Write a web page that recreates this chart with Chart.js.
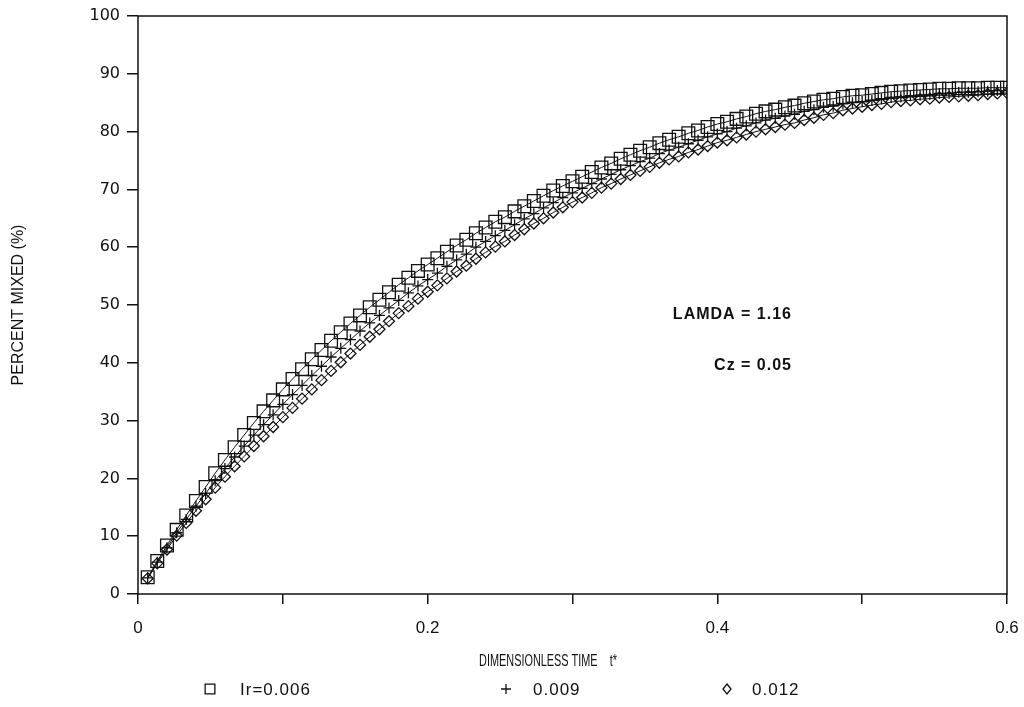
<!DOCTYPE html>
<html>
<head>
<meta charset="utf-8">
<title>Percent mixed vs dimensionless time</title>
<script src="https://cdn.jsdelivr.net/npm/chart.js@4.4.0/dist/chart.umd.min.js"></script>
<style>
  html, body { margin: 0; padding: 0; background: #fff; }
  #wrap { width: 1024px; height: 707px; position: relative; }
</style>
</head>
<body>
<div id="wrap"><canvas id="mixChart"></canvas></div>
<script>
// sample times: 90 steps of 1/150 up to t* = 0.6
const nSteps = 90;
const tStep = 1 / 150;
const times = [];
for (let k = 1; k <= nSteps; k++) times.push(+(k * tStep).toFixed(4));

const seriesNames = ['Ir=0.006', '0.009', '0.012'];

// percent mixed, Ir = 0.006 (squares)
const mixed006 = [
  2.9, 5.7, 8.4, 11.1, 13.6, 16.1, 18.5, 20.9, 23.2, 25.4,
  27.5, 29.6, 31.6, 33.5, 35.4, 37.2, 38.9, 40.6, 42.2, 43.8,
  45.3, 46.8, 48.2, 49.6, 50.9, 52.2, 53.5, 54.7, 55.9, 57.0,
  58.1, 59.2, 60.3, 61.3, 62.4, 63.4, 64.4, 65.2, 66.2, 67.1,
  68.0, 68.9, 69.8, 70.6, 71.4, 72.2, 73.0, 73.8, 74.5, 75.3,
  76.0, 76.7, 77.3, 78.0, 78.6, 79.1, 79.7, 80.2, 80.8, 81.3,
  81.7, 82.2, 82.6, 83.1, 83.5, 83.8, 84.2, 84.5, 84.9, 85.2,
  85.5, 85.7, 86.0, 86.2, 86.3, 86.5, 86.7, 86.9, 87.0, 87.1,
  87.2, 87.3, 87.4, 87.4, 87.5, 87.5, 87.5, 87.6, 87.6, 87.6
];

// percent mixed, Ir = 0.009 (plus)
const mixed009 = [
  2.8, 5.5, 8.0, 10.6, 12.9, 15.2, 17.4, 19.6, 21.7, 23.7,
  25.6, 27.5, 29.3, 31.0, 32.8, 34.5, 36.1, 37.8, 39.4, 41.0,
  42.5, 44.0, 45.5, 46.9, 48.2, 49.5, 50.8, 52.1, 53.3, 54.4,
  55.5, 56.7, 57.8, 58.8, 60.0, 61.0, 62.0, 62.9, 63.9, 64.9,
  65.8, 66.8, 67.7, 68.6, 69.4, 70.2, 71.0, 71.8, 72.6, 73.4,
  74.1, 74.8, 75.4, 76.2, 76.8, 77.3, 77.9, 78.5, 79.1, 79.6,
  80.0, 80.6, 81.0, 81.5, 82.0, 82.3, 82.7, 83.0, 83.5, 83.8,
  84.2, 84.4, 84.8, 85.0, 85.2, 85.4, 85.7, 85.9, 86.0, 86.2,
  86.3, 86.4, 86.6, 86.6, 86.8, 86.8, 86.9, 87.0, 87.1, 87.1
];

// percent mixed, Ir = 0.012 (diamonds)
const mixed012 = [
  2.7, 5.3, 7.7, 10.1, 12.3, 14.4, 16.4, 18.4, 20.3, 22.1,
  23.8, 25.6, 27.3, 28.9, 30.6, 32.2, 33.8, 35.4, 37.0, 38.6,
  40.1, 41.6, 43.1, 44.5, 45.8, 47.2, 48.6, 49.8, 51.1, 52.3,
  53.4, 54.6, 55.8, 56.8, 58.0, 59.1, 60.1, 61.0, 62.1, 63.1,
  64.1, 65.0, 66.0, 66.9, 67.8, 68.6, 69.4, 70.3, 71.0, 71.8,
  72.5, 73.2, 73.9, 74.6, 75.2, 75.7, 76.4, 76.9, 77.5, 78.1,
  78.5, 79.0, 79.5, 80.0, 80.4, 80.8, 81.2, 81.5, 82.0, 82.4,
  82.9, 83.2, 83.7, 84.0, 84.3, 84.6, 84.8, 85.1, 85.3, 85.4,
  85.6, 85.7, 85.9, 86.0, 86.1, 86.2, 86.3, 86.5, 86.6, 86.7
];

const xTickLabels = ['0', '0.2', '0.4', '0.6'];
const notes = ['LAMDA = 1.16', 'Cz = 0.05'];

const ink = '#111';
const sans = '"Liberation Sans", Arial, sans-serif';
const toPoints = ys => ys.map((y, i) => ({ x: times[i], y }));

function series(label, ys, style, radius) {
  return {
    label,
    data: toPoints(ys),
    borderColor: ink,
    borderWidth: 1,
    pointStyle: style,
    pointRadius: radius,
    pointBorderColor: ink,
    pointBackgroundColor: 'rgba(0,0,0,0)',
    pointBorderWidth: 1.3,
    tension: 0,
    fill: false
  };
}

// frame, notes, x title and the legend row under the axis
const extras = {
  id: 'extras',
  afterDraw(chart) {
    const { ctx, chartArea: a } = chart;
    ctx.save();
    ctx.strokeStyle = ink;
    ctx.lineWidth = 1.5;
    ctx.strokeRect(a.left, a.top, a.right - a.left, a.bottom - a.top);

    ctx.fillStyle = ink;
    ctx.letterSpacing = '1px';
    ctx.font = 'bold 16px ' + sans;
    ctx.textAlign = 'right';
    ctx.textBaseline = 'middle';
    ctx.fillText(notes[0], 792, 315);
    ctx.fillText(notes[1], 792, 366);

    // condensed axis title
    ctx.save();
    ctx.letterSpacing = '0px';
    ctx.font = '17px ' + sans;
    ctx.textAlign = 'center';
    ctx.translate(548, 661);
    ctx.scale(0.64, 1);
    ctx.fillText('DIMENSIONLESS TIME    t*', 0, 0);
    ctx.restore();

    const items = [
      { style: 'rect', r: 6.5, x: 210, tx: 240 },
      { style: 'cross', r: 5, x: 506, tx: 533 },
      { style: 'rectRot', r: 5, x: 727, tx: 752 }
    ];
    ctx.textAlign = 'left';
    ctx.font = '17px ' + sans;
    items.forEach((it, i) => {
      const y = 689;
      ctx.lineWidth = 1.3;
      ctx.beginPath();
      if (it.style === 'rect') {
        ctx.rect(it.x - it.r * 0.75, y - it.r * 0.75, it.r * 1.5, it.r * 1.5);
      } else if (it.style === 'cross') {
        ctx.moveTo(it.x - it.r, y); ctx.lineTo(it.x + it.r, y);
        ctx.moveTo(it.x, y - it.r); ctx.lineTo(it.x, y + it.r);
      } else {
        ctx.moveTo(it.x, y - it.r); ctx.lineTo(it.x + it.r * 0.8, y);
        ctx.lineTo(it.x, y + it.r); ctx.lineTo(it.x - it.r * 0.8, y);
        ctx.closePath();
      }
      ctx.stroke();
      ctx.fillText(seriesNames[i], it.tx, y + 1);
    });
    ctx.restore();
  }
};

new Chart(document.getElementById('mixChart'), {
  type: 'line',
  data: {
    datasets: [
      series(seriesNames[0], mixed006, 'rect', 9),
      series(seriesNames[1], mixed009, 'cross', 5.5),
      series(seriesNames[2], mixed012, 'rectRot', 5.5)
    ]
  },
  options: {
    responsive: true,
    maintainAspectRatio: false,
    animation: false,
    layout: { padding: { left: 0, right: 17, top: 16, bottom: 35 } },
    plugins: { legend: { display: false }, tooltip: { enabled: false } },
    scales: {
      x: {
        type: 'linear',
        min: 0,
        max: 0.6,
        border: { display: false },
        grid: { drawOnChartArea: false, drawTicks: true, tickLength: 10, color: ink, lineWidth: 1.5 },
        ticks: {
          stepSize: 0.1,
          color: ink,
          padding: 14,
          maxRotation: 0,
          font: { family: sans, size: 17 },
          callback: v => {
            const n = Math.round(v * 10);
            return n % 2 === 0 ? xTickLabels[n / 2] : '';
          }
        },
        afterFit: s => {
          s.height = 78;
          s.paddingLeft = 0;
          s.paddingRight = 0;
        }
      },
      y: {
        min: 0,
        max: 100,
        border: { display: false },
        grid: { drawOnChartArea: false, drawTicks: true, tickLength: 11, color: ink, lineWidth: 1.5 },
        ticks: {
          stepSize: 10,
          color: ink,
          padding: 7,
          font: { family: '"DejaVu Sans", sans-serif', size: 16 }
        },
        title: {
          display: true,
          text: 'PERCENT MIXED (%)',
          color: ink,
          font: { family: sans, size: 16 },
          padding: { top: 9, bottom: 0 }
        },
        afterFit: s => {
          s.width = 138;
          s.paddingTop = 0;
          s.paddingBottom = 0;
        }
      }
    }
  },
  plugins: [extras]
});
</script>
</body>
</html>
